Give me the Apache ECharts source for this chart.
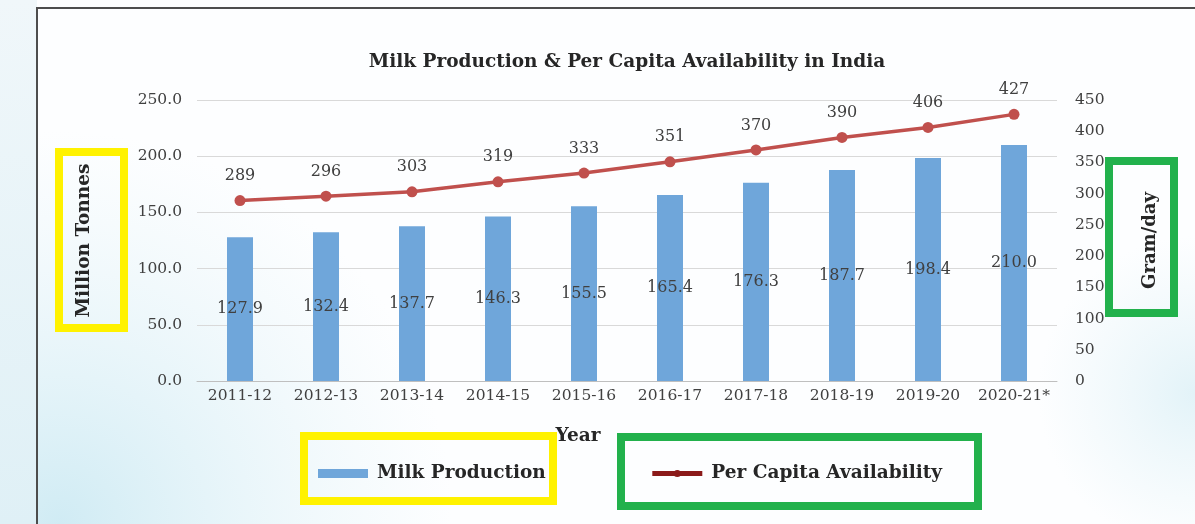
<!DOCTYPE html>
<html>
<head>
<meta charset="utf-8">
<script src="https://cdn.jsdelivr.net/npm/echarts@6/dist/echarts.min.js"></script>
<style>html,body{margin:0;padding:0;}#c{width:1195px;height:524px;}</style>
</head>
<body>
<div id="c"></div>
<script>
const categories = ['2011-12','2012-13','2013-14','2014-15','2015-16','2016-17','2017-18','2018-19','2019-20','2020-21*'];
const milkProduction = [127.9,132.4,137.7,146.3,155.5,165.4,176.3,187.7,198.4,210.0];
const perCapita = [289,296,303,319,333,351,370,390,406,427];

const F = 'DejaVu Serif';
const chart = echarts.init(document.getElementById('c'));
chart.setOption({
  backgroundColor: '#fdfeff',
  animation:false,
  title:{text:'Milk Production & Per Capita Availability in India', left:622, top:48, textAlign:'center',
    textStyle:{fontFamily:F, fontSize:18.5, fontWeight:'bold', color:'#262626'}},
  grid:{left:197, right:138, top:100, bottom:143},
  legend:{left:313, top:459, itemGap:104, itemWidth:50, itemHeight:9,
    textStyle:{fontFamily:F, fontSize:18.5, fontWeight:'bold', color:'#262626', padding:[0,0,0,4]},
    data:[{name:'Milk Production', icon:'rect', itemStyle:{color:'#6fa6da'}},
          {name:'Per Capita Availability', itemStyle:{color:'#8b1a1a'}, lineStyle:{color:'#8b1a1a', width:5}}]},
  xAxis:{type:'category', data:categories, name:'Year', nameLocation:'middle', nameGap:46,
    nameTextStyle:{fontFamily:F, fontSize:18.5, fontWeight:'bold', color:'#262626', padding:[0,98,0,0]},
    axisLine:{lineStyle:{color:'#bfbfbf'}}, axisTick:{show:false},
    axisLabel:{interval:0, fontFamily:F, fontSize:15.5, color:'#404040', margin:7}},
  yAxis:[
    {type:'value', min:0, max:250, interval:50, name:'Million Tonnes', nameLocation:'middle', nameGap:103, nameRotate:90,
     nameTextStyle:{fontFamily:F, fontSize:18.5, fontWeight:'bold', color:'#262626'},
     axisLabel:{fontFamily:F, fontSize:15.5, color:'#404040', margin:15, formatter:v=>v.toFixed(1)},
     splitLine:{lineStyle:{color:'#d9d9d9'}}, axisLine:{show:false}, axisTick:{show:false}},
    {type:'value', min:0, max:450, interval:50, name:'Gram/day', nameLocation:'middle', nameGap:84, nameRotate:90,
     nameTextStyle:{fontFamily:F, fontSize:18, fontWeight:'bold', color:'#262626'},
     axisLabel:{fontFamily:F, fontSize:15.5, color:'#404040', margin:18},
     splitLine:{show:false}, axisLine:{show:false}, axisTick:{show:false}}
  ],
  series:[
    {name:'Milk Production', type:'bar', data:milkProduction, barWidth:26, itemStyle:{color:'#6fa6da'},
     label:{show:true, position:'inside', fontFamily:F, fontSize:16, color:'#404040', formatter:p=>p.value.toFixed(1)}},
    {name:'Per Capita Availability', type:'line', yAxisIndex:1, data:perCapita, symbol:'circle', symbolSize:11,
     itemStyle:{color:'#c0504d'}, lineStyle:{color:'#c0504d', width:3.5},
     label:{show:true, position:'top', distance:11, fontFamily:F, fontSize:16, color:'#404040'}}
  ],
  graphic:[
    {type:'rect', z:-10, silent:true, shape:{x:0, y:0, width:1195, height:524},
     style:{fill:{type:'radial', x:0.05, y:1, r:0.75, colorStops:[{offset:0,color:'rgba(200,232,242,0.85)'},{offset:1,color:'rgba(220,240,246,0)'}]}}},
    {type:'rect', z:-10, silent:true, shape:{x:0, y:0, width:1195, height:524},
     style:{fill:{type:'radial', x:1, y:0.75, r:0.3, colorStops:[{offset:0,color:'rgba(215,238,245,0.7)'},{offset:1,color:'rgba(225,242,247,0)'}]}}},
    {type:'rect', z:-9, silent:true, shape:{x:0, y:0, width:37, height:524},
     style:{fill:{type:'linear', x:0, y:0, x2:0, y2:1, colorStops:[{offset:0,color:'#f0f7fa'},{offset:1,color:'#dff0f6'}]}}},
    {type:'rect', z:-1, shape:{x:37, y:8, width:1200, height:600}, style:{fill:null, stroke:'#4d4d4d', lineWidth:2}},
    {type:'rect', shape:{x:59, y:152, width:65, height:176}, style:{fill:null, stroke:'#fff200', lineWidth:8}},
    {type:'rect', shape:{x:1109, y:161, width:65, height:152}, style:{fill:null, stroke:'#22b14c', lineWidth:8}},
    {type:'rect', shape:{x:304, y:436, width:249, height:65}, style:{fill:null, stroke:'#fff200', lineWidth:8}},
    {type:'rect', shape:{x:621, y:437, width:357, height:69}, style:{fill:null, stroke:'#22b14c', lineWidth:8}}
  ]
});
</script>
</body>
</html>
